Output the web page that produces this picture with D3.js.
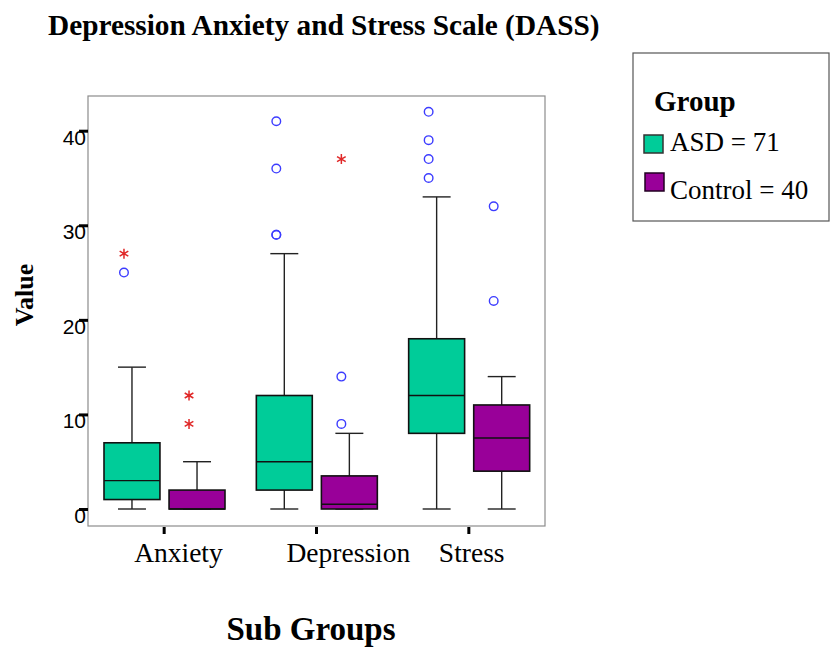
<!DOCTYPE html>
<html>
<head>
<meta charset="utf-8">
<script src="https://cdn.jsdelivr.net/npm/d3@7"></script>
<style>
  body { margin: 0; background: #fff; }
  svg { display: block; }
</style>
</head>
<body>
<svg id="chart" width="832" height="648"></svg>
<script>
// chart data
const categories = ["Anxiety", "Depression", "Stress"];
const groups = ["ASD", "Control"];
const groupLabels = ["ASD = 71", "Control = 40"];
const yTicks = [0, 10, 20, 30, 40];

// box stats per category: [min, q1, median, q3, max]
const asdStats = [[0, 1, 3, 7, 15], [0, 2, 5, 12, 27], [0, 8, 12, 18, 33]];
const controlStats = [[0, 0, 0, 2, 5], [0, 0, 0.5, 3.5, 8], [0, 4, 7.5, 11, 14]];

// outliers (circles) and extremes (stars) per category
const asdOutliers = [[25], [29, 29, 36, 41], [35, 37, 39, 42]];
const asdExtremes = [[27], [], []];
const controlOutliers = [[], [9, 14], [22, 32]];
const controlExtremes = [[9, 12], [37], []];

const colors = ["#00cc99", "#990099"];

const svg = d3.select("#chart");
const frame = { left: 88, top: 96, right: 545, bottom: 526 };

const x = d3.scaleBand()
  .domain(categories)
  .range([frame.left, frame.right])
  .padding(0);

const xg = d3.scaleBand()
  .domain(groups)
  .range([16, 137])
  .paddingInner(0.14)
  .paddingOuter(0);

const y = d3.scaleLinear()
  .domain([0, 40])
  .range([509, 130.7]);

const serif = "'Liberation Serif', 'Times New Roman', serif";
const sans = "'Liberation Sans', Arial, sans-serif";

// title
svg.append("text")
  .attr("x", 48)
  .attr("y", 35)
  .style("font-family", serif)
  .style("font-weight", "bold")
  .style("font-size", "29.3px")
  .text("Depression Anxiety and Stress Scale (DASS)");

// plot frame
svg.append("rect")
  .attr("x", frame.left)
  .attr("y", frame.top)
  .attr("width", frame.right - frame.left)
  .attr("height", frame.bottom - frame.top)
  .attr("fill", "none")
  .attr("stroke", "#8c8c8c")
  .attr("stroke-width", 1.2);

// y axis
const yAxis = svg.append("g")
  .attr("transform", "translate(" + frame.left + ",0)")
  .call(d3.axisLeft(y).tickValues(yTicks).tickSize(0).tickPadding(0));
yAxis.select(".domain").remove();
yAxis.selectAll("text")
  .attr("x", -2)
  .attr("dy", "13.5px")
  .attr("fill", "#000")
  .style("font-family", sans)
  .style("font-size", "21px");
yAxis.selectAll(".tick").append("line")
  .attr("x1", -9).attr("x2", 0)
  .attr("stroke", "#000")
  .attr("stroke-width", 3);

// x axis (labels left-aligned as in the original)
const xAxis = svg.append("g")
  .attr("transform", "translate(0," + frame.bottom + ")")
  .call(d3.axisBottom(x).tickSize(0).tickPadding(0));
xAxis.select(".domain").remove();
xAxis.selectAll(".tick").append("line")
  .attr("y1", 1).attr("y2", 8)
  .attr("stroke", "#000")
  .attr("stroke-width", 3);
xAxis.selectAll("text")
  .attr("x", -30)
  .attr("y", 36)
  .attr("dy", 0)
  .attr("text-anchor", "start")
  .attr("fill", "#000")
  .style("font-family", serif)
  .style("font-size", "27.5px");

// axis titles
svg.append("text")
  .attr("transform", "translate(33,295) rotate(-90)")
  .attr("text-anchor", "middle")
  .style("font-family", serif)
  .style("font-weight", "bold")
  .style("font-size", "26px")
  .text("Value");

svg.append("text")
  .attr("x", 311)
  .attr("y", 640)
  .attr("text-anchor", "middle")
  .style("font-family", serif)
  .style("font-weight", "bold")
  .style("font-size", "33px")
  .text("Sub Groups");

// asterisk symbol for extremes
const asterisk = {
  draw(context, size) {
    const r = Math.sqrt(size) / 2;
    const t = r / 2, u = t * Math.sqrt(3);
    context.moveTo(0, -r); context.lineTo(0, r);
    context.moveTo(-u, -t); context.lineTo(u, t);
    context.moveTo(-u, t); context.lineTo(u, -t);
  }
};

const series = [
  { group: "ASD", stats: asdStats, outliers: asdOutliers, extremes: asdExtremes, color: colors[0] },
  { group: "Control", stats: controlStats, outliers: controlOutliers, extremes: controlExtremes, color: colors[1] }
];

const plot = svg.append("g");
const bw = xg.bandwidth();

series.forEach(s => {
  categories.forEach((cat, i) => {
    const [mn, q1, med, q3, mx] = s.stats[i];
    const x0 = x(cat) + xg(s.group);
    const cx = x0 + bw / 2;
    const g = plot.append("g");

    // whiskers
    g.append("line").attr("x1", cx).attr("x2", cx).attr("y1", y(q3)).attr("y2", y(mx))
      .attr("stroke", "#222").attr("stroke-width", 1.4);
    g.append("line").attr("x1", cx).attr("x2", cx).attr("y1", y(q1)).attr("y2", y(mn))
      .attr("stroke", "#222").attr("stroke-width", 1.4);
    [mn, mx].forEach(v => {
      g.append("line")
        .attr("x1", cx - bw / 4).attr("x2", cx + bw / 4)
        .attr("y1", y(v)).attr("y2", y(v))
        .attr("stroke", "#222").attr("stroke-width", 1.4);
    });

    // box
    g.append("rect")
      .attr("x", x0).attr("y", y(q3))
      .attr("width", bw).attr("height", y(q1) - y(q3))
      .attr("fill", s.color)
      .attr("stroke", "#111").attr("stroke-width", 1.6);
    g.append("line")
      .attr("x1", x0).attr("x2", x0 + bw)
      .attr("y1", y(med)).attr("y2", y(med))
      .attr("stroke", "#111").attr("stroke-width", 1.4);

    // outliers
    g.selectAll("circle.out")
      .data(s.outliers[i])
      .enter().append("circle")
      .attr("class", "out")
      .attr("cx", cx - 8)
      .attr("cy", d => y(d))
      .attr("r", 4.3)
      .attr("fill", "none")
      .attr("stroke", "#3c3cff")
      .attr("stroke-width", 1.4);

    g.selectAll("path.ext")
      .data(s.extremes[i])
      .enter().append("path")
      .attr("class", "ext")
      .attr("transform", d => "translate(" + (cx - 8) + "," + y(d) + ")")
      .attr("d", d3.symbol(asterisk, 100))
      .attr("fill", "none")
      .attr("stroke", "#e02828")
      .attr("stroke-width", 1.5);
  });
});

// legend
const legend = svg.append("g");
legend.append("rect")
  .attr("x", 633).attr("y", 53)
  .attr("width", 196).attr("height", 168)
  .attr("fill", "#fff")
  .attr("stroke", "#555")
  .attr("stroke-width", 1.2);
legend.append("text")
  .attr("x", 654).attr("y", 111)
  .style("font-family", serif)
  .style("font-weight", "bold")
  .style("font-size", "29px")
  .text("Group");

const swatchY = [135, 173];
const labelY = [151, 199];
groupLabels.forEach((lab, i) => {
  legend.append("rect")
    .attr("x", 644 + i).attr("y", swatchY[i])
    .attr("width", 19).attr("height", 18)
    .attr("fill", colors[i])
    .attr("stroke", i === 0 ? "#333" : "#220022")
    .attr("stroke-width", 1.5);
  legend.append("text")
    .attr("x", 670).attr("y", labelY[i])
    .style("font-family", serif)
    .style("font-size", "27px")
    .text(lab);
});
</script>
</body>
</html>
